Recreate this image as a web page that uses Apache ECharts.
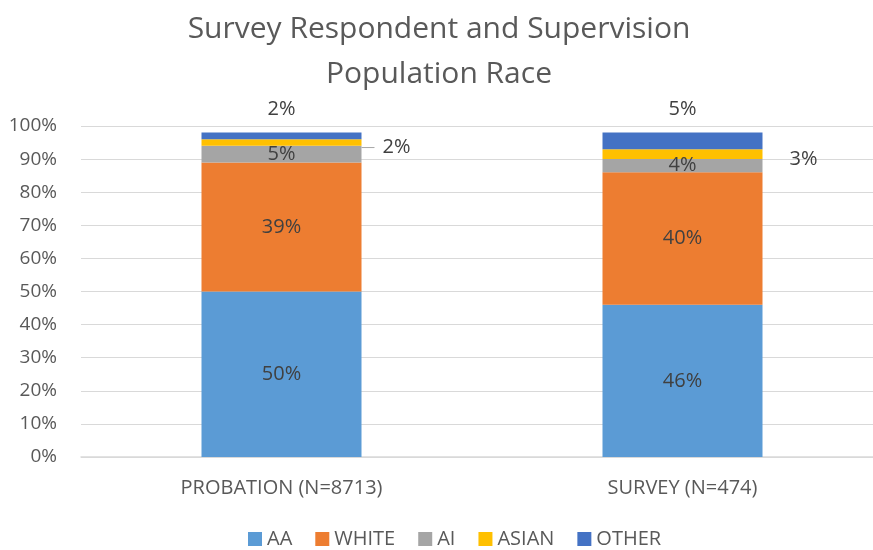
<!DOCTYPE html>
<html>
<head>
<meta charset="utf-8">
<script src="https://cdn.jsdelivr.net/npm/echarts@6/dist/echarts.min.js"></script>
<style>
  html, body { margin: 0; padding: 0; background: #fff; overflow: hidden; }
  /* plot area runs slightly past the right edge of the window, as in the source */
  #chart { width: 883px; height: 550px; }
</style>
</head>
<body>
<div id="chart"></div>
<script>
// Categories and stacked shares (%)
const categories = ['PROBATION (N=8713)', 'SURVEY (N=474)']
const aa = [50, 46]
const white = [39, 40]
const ai = [5, 4]
const asian = [2, 3]
const other = [2, 5]

const FONT = '"Open Sans", sans-serif'
const TEXT = '#595959'
const LABEL = '#404040'

const chart = echarts.init(document.getElementById('chart'))

function seg(name, data, color, label) {
  return {
    name,
    type: 'bar',
    stack: 'race',
    barWidth: 160,
    data,
    itemStyle: { color },
    label: Object.assign({
      show: true,
      position: 'inside',
      color: LABEL,
      fontFamily: FONT,
      fontSize: 20,
      formatter: (p) => p.value + '%',
    }, label || {}),
  }
}

chart.setOption({
  animation: false,
  textStyle: { fontFamily: FONT },
  title: {
    text: 'Survey Respondent and Supervision\nPopulation Race',
    left: 434,
    top: 2,
    textAlign: 'center',
    textStyle: {
      fontFamily: FONT,
      fontSize: 30,
      fontWeight: 'normal',
      color: TEXT,
      lineHeight: 45,
    },
  },
  grid: { left: 81, top: 126, right: 0, height: 331 },
  xAxis: {
    type: 'category',
    data: categories,
    axisTick: { show: false },
    axisLine: { lineStyle: { color: '#d9d9d9', width: 1.5 } },
    axisLabel: { color: TEXT, fontSize: 20, margin: 21, fontFamily: FONT },
  },
  yAxis: {
    type: 'value',
    min: 0,
    max: 100,
    interval: 10,
    axisLine: { show: false },
    axisTick: { show: false },
    splitLine: { lineStyle: { color: '#d9d9d9' } },
    axisLabel: { color: TEXT, fontSize: 19, margin: 24, formatter: '{value}%', fontFamily: FONT },
  },
  legend: {
    bottom: -4,
    left: 243,
    icon: 'rect',
    itemWidth: 14,
    itemHeight: 14,
    itemGap: 23,
    textStyle: { color: TEXT, fontSize: 20, fontFamily: FONT },
  },
  series: [
    seg('AA', aa, '#5b9bd5'),
    seg('WHITE', white, '#ed7d31'),
    seg('AI', ai, '#a5a5a5'),
    seg('ASIAN', asian, '#ffc000', {
      position: 'right',
      distance: 0,
      offset: [0, 5],
      formatter: (p) => (p.dataIndex === 0 ? '{ln| }' : '{sp| }') + '{v|' + p.value + '%}',
      rich: {
        ln: { width: 13, height: 1, backgroundColor: '#a6a6a6', verticalAlign: 'middle' },
        sp: { width: 19 },
        v: { color: LABEL, fontSize: 20, fontFamily: FONT, padding: [0, 0, 0, 8] },
      },
    }),
    seg('OTHER', other, '#4472c4', { position: 'top', distance: 13 }),
  ],
})
</script>
</body>
</html>
